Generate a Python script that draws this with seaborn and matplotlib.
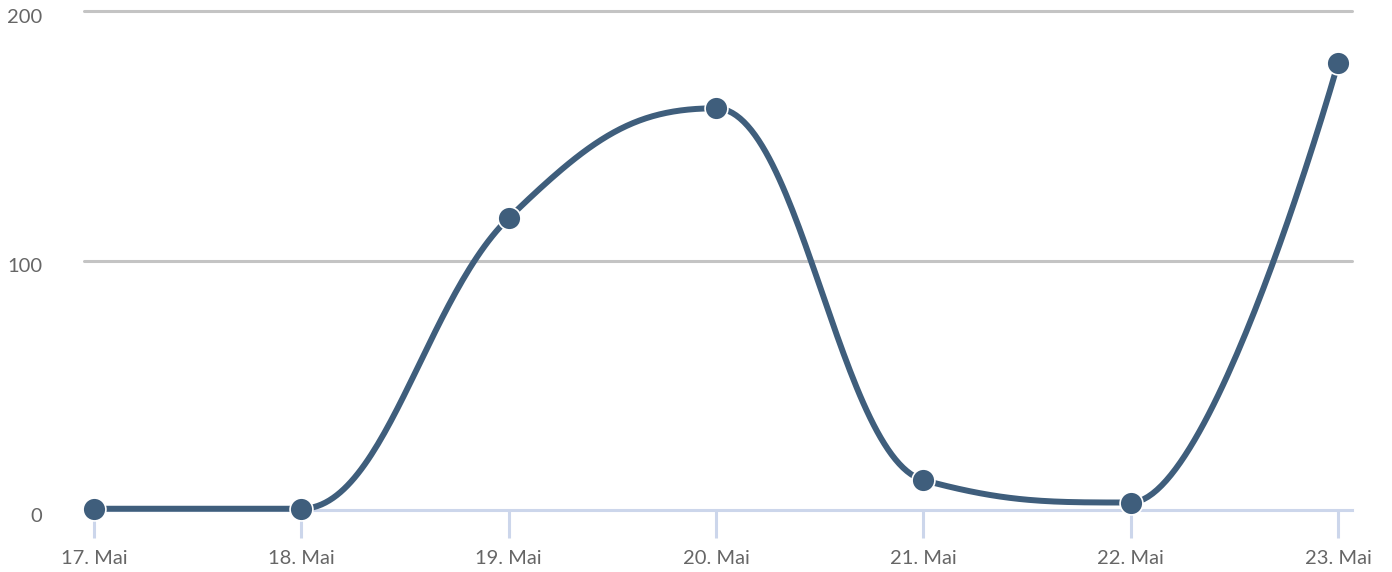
import numpy as np
import pandas as pd
import matplotlib
matplotlib.use("Agg")
import matplotlib.pyplot as plt
import matplotlib.transforms as mtransforms
import seaborn as sns

# data
days = ["17. Mai", "18. Mai", "19. Mai", "20. Mai", "21. Mai", "22. Mai", "23. Mai"]
values = [0.5, 0.5, 117, 161, 12, 3, 179]
y_ticks = [0, 100, 200]

LINE = "#3f5e7c"
GRID = "#c4c4c4"
AXIS = "#ccd6eb"
TEXT = "#666666"


def spline_path(xs, ys, smoothing=1.5, steps=60):
    # Highcharts-style spline: cubic bezier with control points per point
    n = len(xs)
    denom = smoothing + 1
    left = [None] * n
    right = [None] * n
    for i in range(1, n - 1):
        x, y = xs[i], ys[i]
        lx = (smoothing * x + xs[i - 1]) / denom
        ly = (smoothing * y + ys[i - 1]) / denom
        rx = (smoothing * x + xs[i + 1]) / denom
        ry = (smoothing * y + ys[i + 1]) / denom
        corr = (ry - ly) * (rx - x) / (rx - lx) + y - ry
        ly += corr
        ry += corr
        py, ny = ys[i - 1], ys[i + 1]
        if ly > py and ly > y:
            ly = max(py, y)
            ry = 2 * y - ly
        elif ly < py and ly < y:
            ly = min(py, y)
            ry = 2 * y - ly
        if ry > ny and ry > y:
            ry = max(ny, y)
            ly = 2 * y - ry
        elif ry < ny and ry < y:
            ry = min(ny, y)
            ly = 2 * y - ry
        left[i] = (lx, ly)
        right[i] = (rx, ry)
    px, py_ = [], []
    t = np.linspace(0, 1, steps)
    for i in range(1, n):
        p0 = np.array([xs[i - 1], ys[i - 1]])
        p3 = np.array([xs[i], ys[i]])
        p1 = np.array(right[i - 1]) if right[i - 1] is not None else p0
        p2 = np.array(left[i]) if left[i] is not None else p3
        seg = ((1 - t) ** 3)[:, None] * p0 + (3 * (1 - t) ** 2 * t)[:, None] * p1 \
            + (3 * (1 - t) * t ** 2)[:, None] * p2 + (t ** 3)[:, None] * p3
        px.extend(seg[:, 0])
        py_.extend(seg[:, 1])
    return np.array(px), np.array(py_)


xs = np.arange(len(days), dtype=float)
cx, cy = spline_path(xs, values)
curve = pd.DataFrame({"x": cx, "y": cy})
points = pd.DataFrame({"x": xs, "y": values})

sns.set_style("white")
plt.rcParams["font.family"] = ["Lato", "DejaVu Sans"]

fig = plt.figure(figsize=(13.92, 5.72), dpi=100)
ax = fig.add_axes([84 / 1392, 62 / 572, 1268 / 1392, 499 / 572])

for yt in y_ticks[1:]:
    ax.axhline(yt, color=GRID, lw=2.2, zorder=0)

sns.lineplot(data=curve, x="x", y="y", ax=ax, color=LINE, lw=4.3, sort=False,
             estimator=None, zorder=3)
sns.scatterplot(data=points, x="x", y="y", ax=ax, color=LINE, s=270,
                edgecolor="white", linewidth=1.2, zorder=4)
for art in ax.lines + ax.collections:
    art.set_clip_on(False)

ax.set_xlim(-10 / 207.3, 6 + 14 / 207.3)
ax.set_ylim(0, 200)
ax.set_xticks(xs)
ax.set_xticklabels(days)
ax.set_yticks(y_ticks)
ax.set_yticklabels([str(v) for v in y_ticks])
ax.set_xlabel("")
ax.set_ylabel("")

for side in ["top", "right", "left"]:
    ax.spines[side].set_visible(False)
ax.spines["bottom"].set_color(AXIS)
ax.spines["bottom"].set_linewidth(2.2)
ax.spines["bottom"].set_zorder(1)

ax.tick_params(axis="x", bottom=True, direction="out", colors=AXIS, length=20,
               width=2.2, pad=9, labelcolor=TEXT, labelsize=14.5)
ax.tick_params(axis="y", left=False, length=0, pad=30, labelcolor=TEXT,
               labelsize=14.5)
shift = mtransforms.ScaledTranslation(0, -5 / 100, fig.dpi_scale_trans)
for lab in ax.get_yticklabels():
    lab.set_horizontalalignment("right")
    lab.set_transform(lab.get_transform() + shift)

fig.savefig("out.png", dpi=100)
